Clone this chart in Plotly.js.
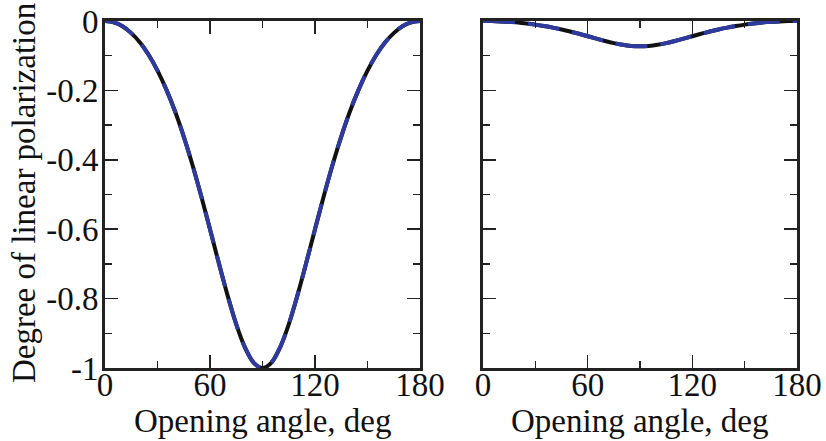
<!DOCTYPE html>
<html>
<head>
<meta charset="utf-8">
<script src="https://cdn.plot.ly/plotly-3.0.1.min.js"></script>
<style>html,body{margin:0;padding:0;background:#fff;}#chart{width:826px;height:441px;}</style>
</head>
<body>
<div id="chart"></div>
<script>
const angles = [0,5,10,15,20,25,30,35,40,45,50,55,60,65,70,75,80,85,90,95,100,105,110,115,120,125,130,135,140,145,150,155,160,165,170,175,180];
const leftHalf = [0,-0.004,-0.015,-0.035,-0.062,-0.098,-0.143,-0.197,-0.260,-0.333,-0.415,-0.505,-0.600,-0.697,-0.790,-0.874,-0.941,-0.985,-1.0];
const rightHalf = [0,-0.0003,-0.0011,-0.0025,-0.0045,-0.0072,-0.0104,-0.0144,-0.019,-0.0243,-0.0303,-0.0369,-0.0438,-0.0509,-0.0577,-0.0638,-0.0687,-0.0719,-0.073];
const leftValues = leftHalf.concat(leftHalf.slice(0,-1).reverse());
const rightValues = rightHalf.concat(rightHalf.slice(0,-1).reverse());
const xTickVals = [0,60,120,180];
const yTickVals = [0,-0.2,-0.4,-0.6,-0.8,-1];
const yTickText = ['0','-0.2','-0.4','-0.6','-0.8','-1'];
const xTitle = 'Opening angle, deg';
const yTitle = 'Degree of linear polarization';

const blue = '#2E3A9E';
const black = '#111111';
const F = 'Liberation Serif';

function pair(xa, ya, vals){
  return [
    {x: angles, y: vals, xaxis: xa, yaxis: ya, mode: 'lines', line: {color: black, width: 4, shape: 'spline'}, showlegend: false, hoverinfo: 'skip'},
    {x: angles, y: vals, xaxis: xa, yaxis: ya, mode: 'lines', line: {color: blue, width: 4, shape: 'spline', dash: '32px,13px'}, showlegend: false, hoverinfo: 'skip'}
  ];
}
const data = pair('x','y',leftValues).concat(pair('x2','y2',rightValues));

const W = 826, H = 441, L = 105, R = 29, T = 21, B = 73;
const pw = W - L - R, ph = H - T - B;
function xAx(dom){
  return {domain: dom, range: [0,180], tickvals: xTickVals, ticktext: xTickVals.map(String), ticks: 'inside', ticklen: 13, tickwidth: 1.5, tickcolor: '#222',
    minor: {dtick: 30, tick0: 0, ticks: 'inside', ticklen: 7, tickwidth: 1.5, tickcolor: '#222'},
    showline: true, linewidth: 3, linecolor: '#222', mirror: 'ticks', showgrid: false, zeroline: false,
    ticklabelstandoff: -15,
    tickfont: {family: F, size: 33, color: '#111'}};
}
function yAx(anchor, labels){
  return {anchor: anchor, range: [-1,0], tickvals: yTickVals, ticktext: yTickText, ticks: 'inside', ticklen: 13, tickwidth: 1.5, tickcolor: '#222',
    minor: {dtick: 0.1, tick0: 0, ticks: 'inside', ticklen: 7, tickwidth: 1.5, tickcolor: '#222'},
    showline: true, linewidth: 3, linecolor: '#222', mirror: 'ticks', showgrid: false, zeroline: false, showticklabels: labels,
    ticklabelstandoff: -3,
    tickfont: {family: F, size: 33, color: '#111'}};
}
const titleFont = {family: F, size: 33, color: '#111'};
const layout = {
  width: W, height: H,
  margin: {l: L, r: R, t: T, b: B, pad: 0},
  paper_bgcolor: '#fff', plot_bgcolor: '#fff',
  xaxis: Object.assign(xAx([0, 315/pw]), {anchor: 'y'}),
  xaxis2: Object.assign(xAx([378/pw, 1]), {anchor: 'y2'}),
  yaxis: yAx('x', true),
  yaxis2: yAx('x2', false),
  annotations: [
    {text: yTitle, textangle: -90, xref: 'paper', yref: 'paper', x: (24 - L)/pw, y: (H - B - 193)/ph, xanchor: 'center', yanchor: 'middle', showarrow: false, font: {family: F, size: 33, color: '#111'}},
    {text: xTitle, xref: 'paper', yref: 'paper', x: 157.5/pw, y: (H - B - 421)/ph, xanchor: 'center', yanchor: 'middle', showarrow: false, font: titleFont},
    {text: xTitle, xref: 'paper', yref: 'paper', x: 535/pw, y: (H - B - 421)/ph, xanchor: 'center', yanchor: 'middle', showarrow: false, font: titleFont}
  ]
};
Plotly.newPlot('chart', data, layout, {staticPlot: true, displayModeBar: false});
</script>
</body>
</html>
